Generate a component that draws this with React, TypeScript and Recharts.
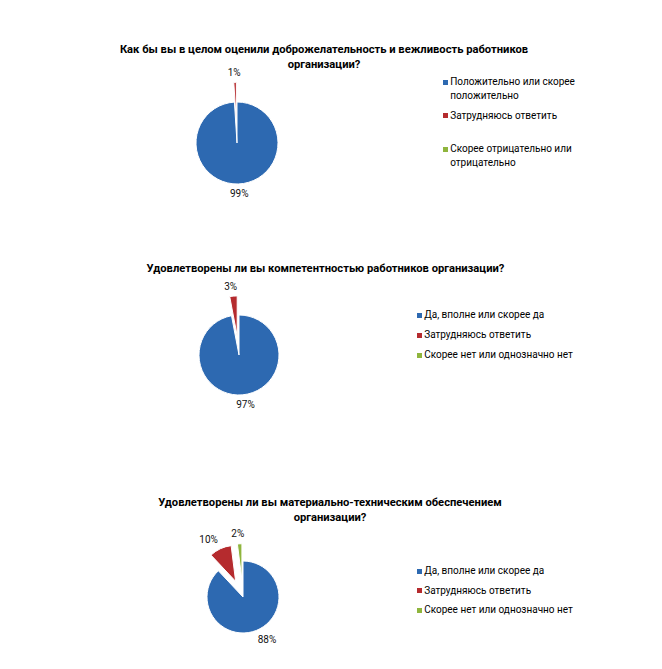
import React from 'react';
import { PieChart, Pie, Cell, Legend, Sector } from 'recharts';

const COLORS = ['#2D69B1', '#B52B2E', '#8FB53D'];

const chart1Title = ['Как бы вы в целом оценили доброжелательность и вежливость работников', 'организации?'];
const chart1Categories = ['Положительно или скорее положительно', 'Затрудняюсь ответить', 'Скорее отрицательно или отрицательно'];
const chart1Values = [99, 1, 0];

const chart2Title = ['Удовлетворены ли вы компетентностью работников организации?'];
const chart2Categories = ['Да, вполне или скорее да', 'Затрудняюсь ответить', 'Скорее нет или однозначно нет'];
const chart2Values = [97, 3, 0];

const chart3Title = ['Удовлетворены ли вы материально-техническим обеспечением', 'организации?'];
const chart3Categories = ['Да, вполне или скорее да', 'Затрудняюсь ответить', 'Скорее нет или однозначно нет'];
const chart3Values = [88, 10, 2];

const FONT = 'Roboto, "Noto Sans", sans-serif';
const EXPLODE = 0.48;
const RAD = Math.PI / 180;

const renderLabel = (props: any) => {
  const { cx, cy, midAngle, innerRadius, outerRadius, startAngle, endAngle, index, value } = props;
  if (!value) return null;
  const cos = Math.cos(-midAngle * RAD);
  const sin = Math.sin(-midAngle * RAD);
  const exploded = index > 0;
  const off = exploded ? outerRadius * EXPLODE : 0;
  const ox = cx + off * cos;
  const oy = cy + off * sin;
  const px = ox + (outerRadius + 4) * cos;
  const py = oy + (outerRadius + 4) * sin;
  const k = Math.max(-1, Math.min(1, cos * 2.5));
  const tx = px + 10 * k;
  const ty = py + 6 * sin;
  return (
    <g>
      {exploded && (
        <Sector
          cx={ox}
          cy={oy}
          innerRadius={innerRadius}
          outerRadius={outerRadius}
          startAngle={startAngle}
          endAngle={endAngle}
          fill={COLORS[index]}
          stroke="#fff"
          strokeWidth={1}
        />
      )}
      <text
        x={tx}
        y={ty}
        textAnchor="middle"
        dominantBaseline="central"
        fontSize={10}
        fontFamily={FONT}
        fill="#111"
      >
        {value}%
      </text>
    </g>
  );
};

type BlockProps = {
  title: string[];
  categories: string[];
  values: number[];
  height: number;
  titleTop: number;
  titleCenter: number;
  cx: number;
  cy: number;
  r: number;
  legendLeft: number;
  legendTop: number;
  slot: number;
  textWidth: number;
};

function ChartBlock(p: BlockProps) {
  const data = p.categories.map((name, i) => ({ name, value: p.values[i] }));
  const legendContent = () => (
    <div style={{ fontFamily: FONT, fontSize: 10, color: '#000' }}>
      {p.categories.map((c, i) => (
        <div key={c} style={{ display: 'flex', alignItems: 'flex-start', height: p.slot }}>
          <div style={{ width: 5, height: 5, background: COLORS[i], marginTop: 4.5, marginRight: 2.5, flex: 'none' }} />
          <div style={{ width: p.textWidth, lineHeight: '14px' }}>{c}</div>
        </div>
      ))}
    </div>
  );
  return (
    <div style={{ position: 'relative', width: 646, height: p.height }}>
      <PieChart width={646} height={p.height} margin={{ top: 0, right: 0, bottom: 0, left: 0 }}>
        <Pie
          data={data}
          dataKey="value"
          nameKey="name"
          cx={p.cx}
          cy={p.cy}
          outerRadius={p.r}
          startAngle={90}
          endAngle={-270}
          stroke="#fff"
          strokeWidth={1}
          label={renderLabel}
          labelLine={false}
          isAnimationActive={false}
        >
          {data.map((d, i) => (
            <Cell key={d.name} fill={i === 0 ? COLORS[i] : 'transparent'} stroke={i === 0 ? '#fff' : 'none'} />
          ))}
        </Pie>
        <Legend
          content={legendContent}
          wrapperStyle={{ left: p.legendLeft, top: p.legendTop, width: 200 }}
        />
      </PieChart>
      <div
        style={{
          position: 'absolute',
          left: p.titleCenter - 300,
          width: 600,
          top: p.titleTop,
          textAlign: 'center',
          fontFamily: FONT,
          fontWeight: 'bold',
          fontSize: 11.2,
          lineHeight: '15px',
          color: '#000',
        }}
      >
        {p.title.map((t) => (
          <div key={t}>{t}</div>
        ))}
      </div>
    </div>
  );
}

export default function App() {
  return (
    <div style={{ width: 646 }}>
      <ChartBlock
        title={chart1Title}
        categories={chart1Categories}
        values={chart1Values}
        height={230}
        titleTop={34}
        titleCenter={316}
        cx={229}
        cy={135}
        r={41}
        legendLeft={434.7}
        legendTop={67}
        slot={33.5}
        textWidth={150}
      />
      <ChartBlock
        title={chart2Title}
        categories={chart2Categories}
        values={chart2Values}
        height={230}
        titleTop={22.5}
        titleCenter={317.5}
        cx={231}
        cy={117}
        r={40}
        legendLeft={408.7}
        legendTop={70}
        slot={20}
        textWidth={200}
      />
      <ChartBlock
        title={chart3Title}
        categories={chart3Categories}
        values={chart3Values}
        height={193}
        titleTop={26.5}
        titleCenter={322}
        cx={235}
        cy={129}
        r={36}
        legendLeft={408.7}
        legendTop={96}
        slot={19.5}
        textWidth={200}
      />
    </div>
  );
}
